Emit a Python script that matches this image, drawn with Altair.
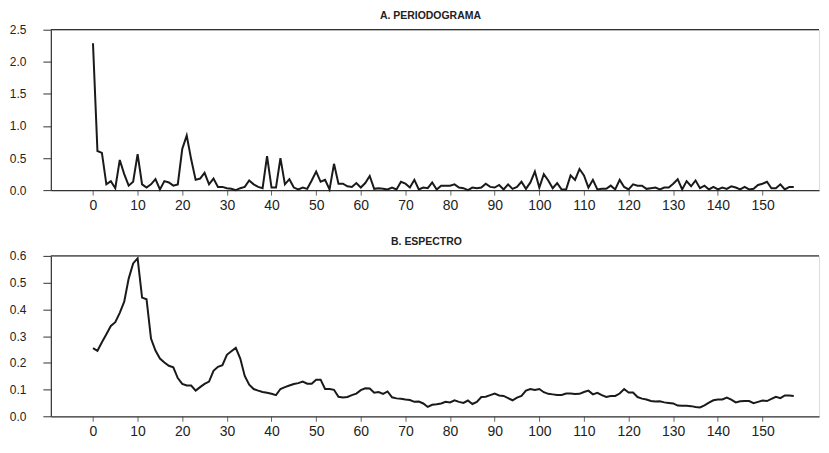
import altair as alt
import pandas as pd

freq = list(range(158))

periodograma = [
    2.29, 0.61, 0.58, 0.09, 0.14, 0.03, 0.47, 0.25, 0.07, 0.13,
    0.56, 0.09, 0.04, 0.09, 0.17, 0.01, 0.14, 0.12, 0.07, 0.09,
    0.64, 0.85, 0.48, 0.16, 0.18, 0.27, 0.09, 0.18, 0.05, 0.05,
    0.03, 0.02, 0.00, 0.03, 0.05, 0.15, 0.09, 0.05, 0.03, 0.53,
    0.04, 0.04, 0.50, 0.09, 0.17, 0.04, 0.01, 0.04, 0.02, 0.15,
    0.29, 0.13, 0.16, 0.01, 0.41, 0.10, 0.10, 0.06, 0.05, 0.11,
    0.04, 0.11, 0.22, 0.02, 0.03, 0.02, 0.01, 0.04, 0.01, 0.13,
    0.10, 0.04, 0.16, 0.01, 0.04, 0.03, 0.12, 0.01, 0.07, 0.07,
    0.07, 0.09, 0.04, 0.03, 0.00, 0.04, 0.03, 0.04, 0.10, 0.05,
    0.04, 0.08, 0.01, 0.09, 0.02, 0.05, 0.13, 0.02, 0.12, 0.29,
    0.04, 0.25, 0.15, 0.03, 0.11, 0.01, 0.01, 0.23, 0.16, 0.33,
    0.23, 0.04, 0.16, 0.01, 0.02, 0.02, 0.07, 0.01, 0.16, 0.05,
    0.01, 0.09, 0.07, 0.07, 0.02, 0.03, 0.04, 0.01, 0.04, 0.04,
    0.10, 0.17, 0.01, 0.14, 0.06, 0.15, 0.03, 0.07, 0.01, 0.05,
    0.01, 0.04, 0.02, 0.06, 0.04, 0.01, 0.05, 0.01, 0.02, 0.08,
    0.10, 0.13, 0.03, 0.03, 0.09, 0.01, 0.05, 0.05,
]

espectro = [
    0.255, 0.245, 0.277, 0.307, 0.338, 0.352, 0.387, 0.429, 0.515, 0.572,
    0.591, 0.444, 0.438, 0.291, 0.246, 0.216, 0.201, 0.189, 0.183, 0.143,
    0.121, 0.115, 0.115, 0.096, 0.109, 0.121, 0.130, 0.170, 0.185, 0.191,
    0.230, 0.243, 0.256, 0.216, 0.151, 0.118, 0.102, 0.096, 0.091, 0.088,
    0.084, 0.079, 0.102, 0.109, 0.115, 0.121, 0.124, 0.130, 0.122, 0.122,
    0.137, 0.137, 0.102, 0.102, 0.099, 0.073, 0.070, 0.072, 0.079, 0.085,
    0.098, 0.105, 0.104, 0.088, 0.091, 0.084, 0.093, 0.071, 0.067, 0.066,
    0.063, 0.061, 0.054, 0.055, 0.048, 0.035, 0.043, 0.045, 0.048, 0.054,
    0.052, 0.060, 0.054, 0.050, 0.059, 0.046, 0.054, 0.072, 0.073, 0.079,
    0.085, 0.078, 0.076, 0.068, 0.060, 0.070, 0.076, 0.096, 0.102, 0.098,
    0.102, 0.090, 0.084, 0.082, 0.080, 0.080, 0.085, 0.085, 0.083, 0.084,
    0.091, 0.096, 0.082, 0.088, 0.079, 0.072, 0.076, 0.076, 0.085, 0.102,
    0.089, 0.089, 0.072, 0.066, 0.063, 0.057, 0.055, 0.056, 0.052, 0.050,
    0.048, 0.040, 0.039, 0.039, 0.038, 0.035, 0.033, 0.041, 0.051, 0.060,
    0.063, 0.063, 0.070, 0.062, 0.052, 0.056, 0.057, 0.057, 0.049, 0.054,
    0.059, 0.057, 0.065, 0.073, 0.068, 0.078, 0.078, 0.076,
]

x_ticks = list(range(0, 151, 10))
ticks_a = [0.0, 0.5, 1.0, 1.5, 2.0, 2.5]
ticks_b = [0.0, 0.1, 0.2, 0.3, 0.4, 0.5, 0.6]

FONT = "Liberation Sans"
PLOT_W = 771
PLOT_H = 161
X_DOMAIN = [-9.44, -9.44 + PLOT_W / 4.48]


def y_axis(yticks):
    return alt.Axis(
        values=yticks,
        format=".1f",
        title=None,
        grid=False,
        domain=True,
        domainColor="#333333",
        domainWidth=1.2,
        tickColor="#333333",
        tickSize=8,
        labelPadding=17,
        labelFontSize=12,
        labelFont=FONT,
        labelColor="#222222",
        labelOverlap=False,
        labelFlush=False,
        minExtent=42,
        maxExtent=42,
    )


def panel(values, title, ymax, yticks, dx):
    df = pd.DataFrame({"x": freq, "y": values})
    xscale = alt.Scale(domain=X_DOMAIN, nice=False, zero=False)
    yscale = alt.Scale(domain=[0, ymax], nice=False)
    line = alt.Chart(df).mark_line(color="#1a1a1a", strokeWidth=2).encode(
        x=alt.X(
            "x:Q",
            scale=xscale,
            axis=alt.Axis(
                values=x_ticks,
                title=None,
                grid=False,
                domain=True,
                domainColor="#333333",
                domainWidth=1.2,
                tickColor="#666666",
                tickSize=5,
                labelPadding=3,
                labelFontSize=14,
                labelFont=FONT,
                labelColor="#222222",
                labelFlush=False,
                labelOverlap=False,
            ),
        ),
        y=alt.Y("y:Q", scale=yscale, axis=y_axis(yticks)),
    )
    top = alt.Chart(pd.DataFrame({"y": [ymax]})).mark_rule(
        color="#333333", strokeWidth=1.2
    ).encode(y=alt.Y("y:Q", scale=yscale, axis=y_axis(yticks)))
    return alt.layer(line, top).properties(
        width=PLOT_W,
        height=PLOT_H,
        title=alt.TitleParams(
            title,
            font=FONT,
            fontSize=10.5,
            fontWeight="bold",
            color="#222222",
            anchor="middle",
            baseline="alphabetic",
            offset=-6,
            dx=dx,
        ),
    )


chart = (
    alt.vconcat(
        panel(periodograma, "A. PERIODOGRAMA", 2.5, ticks_a, -4.5),
        panel(espectro, "B. ESPECTRO", 0.6, ticks_b, -8.5),
        spacing=24,
    )
    .properties(padding={"left": 0, "top": 2, "right": 0, "bottom": 0})
    .configure_view(stroke=None)
    .configure(background="white")
)

chart.save("out.html", embed_options={"renderer": "svg", "actions": False})
